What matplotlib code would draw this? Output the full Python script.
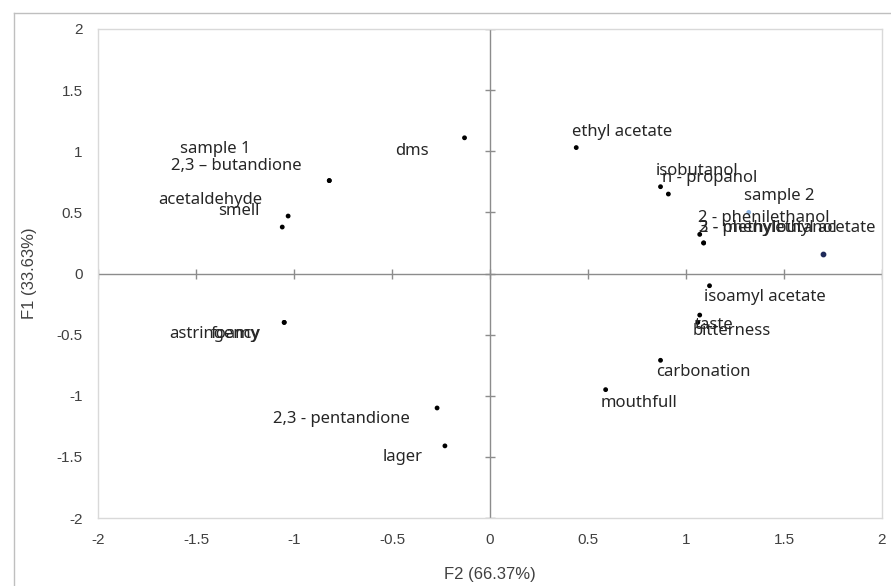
import matplotlib.pyplot as plt
from matplotlib.lines import Line2D
import numpy as np

plt.rcParams['font.family'] = ['Noto Sans', 'DejaVu Sans']

# point coordinates (F2, F1) and labels
labels = ['dms', 'ethyl acetate', 'sample 1', '2,3 \u2013 butandione', 'acetaldehyde', 'smell',
          'isobutanol', 'n - propanol', 'sample 2', '2 - phenilethanol', '2 - phenylethyl acetate',
          '3 - methylbutanol', 'isoamyl acetate', 'taste', 'bitterness', 'carbonation', 'mouthfull',
          'astringency', 'foamy', '2,3 - pentandione', 'lager']
f2 = [-0.13, 0.44, -0.82, -0.82, -1.03, -1.06,
      0.87, 0.91, 1.32, 1.07, 1.09,
      1.09, 1.12, 1.07, 1.06, 0.87, 0.59,
      -1.05, -1.05, -0.27, -0.23]
f1 = [1.11, 1.03, 0.76, 0.76, 0.47, 0.38,
      0.71, 0.65, 0.50, 0.32, 0.25,
      0.25, -0.10, -0.34, -0.40, -0.71, -0.95,
      -0.40, -0.40, -1.10, -1.41]
# label offsets (pixels) and alignment
offx = [-36, -4, -79, -28, -26, -23, -5, -6, -5, -2, -5, -5, -6, -5, -5, -4, -5, -24, -24, -27, -22]
offy = [-13, 16, 32, 15, 16, 16, 16, 16, 16, 16, 15, 15, -11, -10, -9, -12, -13, -12, -12, -11, -11]
align = ['right', 'left', 'right', 'right', 'right', 'right', 'left', 'left', 'left', 'left', 'left',
         'left', 'left', 'left', 'left', 'left', 'left', 'right', 'right', 'right', 'right']
colors = ['black'] * len(labels)
colors[8] = '#8db4e2'  # sample 2 marker is a faint blue

# extra unlabeled point
extra_f2 = [1.70]
extra_f1 = [0.16]

ticks = np.arange(-2, 2.01, 0.5)
tick_labels = ['-2', '-1.5', '-1', '-0.5', '0', '0.5', '1', '1.5', '2']

fig = plt.figure(figsize=(8.91, 5.86), dpi=100)
ax = fig.add_axes([98 / 891, 68 / 586, 784 / 891, 489 / 586])

ax.set_xlim(-2, 2)
ax.set_ylim(-2, 2)
for s in ax.spines.values():
    s.set_color('#d9d9d9')
    s.set_linewidth(1)

ax.axhline(0, color='#8c8c8c', lw=1, zorder=1)
ax.axvline(0, color='#8c8c8c', lw=1, zorder=1)
ax.plot(ticks, np.zeros_like(ticks), ls='none', marker='|', ms=7, mew=1, color='#8c8c8c', zorder=1)
ax.plot(np.zeros_like(ticks), ticks, ls='none', marker='_', ms=7, mew=1, color='#8c8c8c', zorder=1)

ax.set_xticks(ticks)
ax.set_yticks(ticks)
tick_font = ['Liberation Sans Narrow', 'Liberation Sans', 'DejaVu Sans']
ax.set_xticklabels(tick_labels, family=tick_font, fontsize=11, color='#404040')
ax.set_yticklabels(tick_labels, family=tick_font, fontsize=11, color='#404040')
ax.tick_params(length=0, pad=11)

ax.scatter(f2, f1, s=6, c=colors, zorder=3)
ax.scatter(extra_f2, extra_f1, s=10, color='#1f2a5a', zorder=3)

for lab, x, y, dx, dy, ha in zip(labels, f2, f1, offx, offy, align):
    ax.annotate(lab, (x, y), xytext=(dx, dy), textcoords='offset pixels',
                ha=ha, va='center', fontsize=12, color='#262626')

ax.set_xlabel('F2 (66.37%)', family=tick_font, fontsize=12, color='#404040', labelpad=14)
ax.set_ylabel('F1 (33.63%)', family=tick_font, fontsize=12, color='#404040', labelpad=14)

# outer chart frame (partially visible)
fig.add_artist(Line2D([14 / 891, 1], [1 - 13 / 586, 1 - 13 / 586], color='#bfbfbf', lw=1))
fig.add_artist(Line2D([14 / 891, 14 / 891], [0, 1 - 13 / 586], color='#bfbfbf', lw=1))

fig.savefig('out.png', dpi=100)
